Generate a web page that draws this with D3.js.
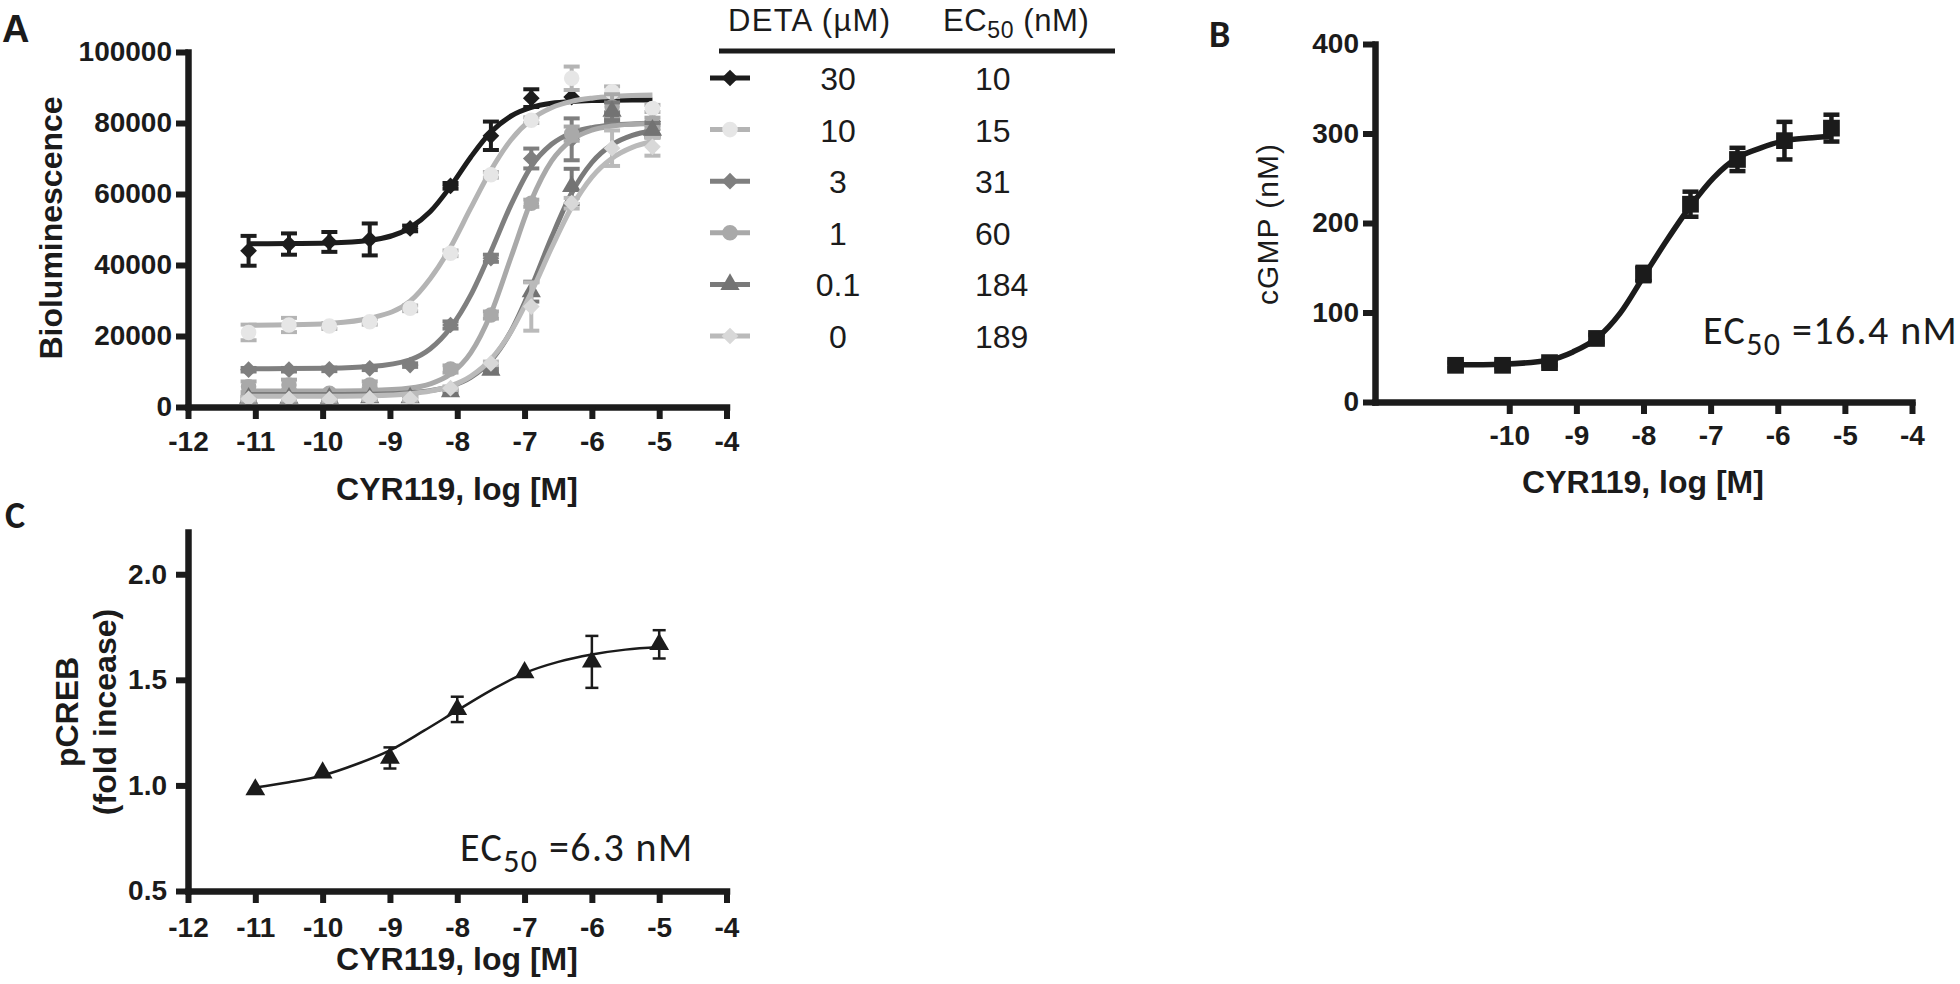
<!DOCTYPE html>
<html><head><meta charset="utf-8">
<script src="https://cdn.jsdelivr.net/npm/d3@7"></script>
<style>body{margin:0;background:#fff} svg{display:block}</style>
</head><body>
<svg id="chart" width="1960" height="984"></svg>
<script>
// ---------------- DATA ----------------
// Panel A
const detaLabels = ["30", "10", "3", "1", "0.1", "0"];
const ec50Labels = ["10", "15", "31", "60", "184", "189"];
const logConcA = [-11.1, -10.5, -9.9, -9.3, -8.7, -8.1, -7.5, -6.9, -6.3, -5.7, -5.1];
const lum30  = [44000, 45900, 46500, 47200, 50300, 62300, 76400, 87000, 87300, 87200, 80500];
const err30  = [4200, 3000, 2800, 4500, 800, 800, 4000, 2500, 0, 0, 0];
const lum10  = [21000, 23100, 22800, 24000, 27800, 43300, 65400, 80800, 92600, 88800, 84100];
const err10  = [2200, 2000, 800, 800, 800, 800, 800, 800, 3300, 1500, 1000];
const lum3   = [10500, 10500, 10600, 10900, 11800, 23100, 41900, 70000, 75400, 81500, 78000];
const err3   = [500, 500, 500, 500, 500, 1000, 1000, 2800, 5900, 1500, 1500];
const lum1   = [5700, 6200, 3900, 6200, 3300, 10700, 25900, 57400, 77000, 84600, 80000];
const err1   = [1500, 1500, 500, 1000, 500, 1000, 1000, 1000, 2000, 3500, 1500];
const lum01  = [2500, 2500, 2500, 2600, 2600, 4300, 10400, 32500, 62100, 83300, 78000];
const err01  = [500, 500, 500, 500, 500, 500, 500, 2800, 5000, 2500, 2000];
const lum0   = [2300, 2300, 2200, 2400, 2300, 5300, 12300, 28300, 57400, 72900, 73300];
const err0   = [500, 500, 500, 500, 500, 500, 500, 6800, 1500, 5000, 2500];
// fitted curves
const fitXA  = [-11.1, -10.5, -9.9, -9.3, -8.7, -8.4, -8.1, -7.8, -7.5, -7.2, -6.9, -6.6, -6.3, -6.0, -5.7, -5.4, -5.1];
const fit30  = [46010, 46040, 46190, 46950, 50530, 55060, 62130, 70380, 77440, 81970, 84390, 85550, 86080, 86320, 86420, 86470, 86490];
const fit10  = [23030, 23140, 23540, 25000, 29800, 36200, 45000, 56000, 66700, 75300, 81000, 84300, 86100, 87000, 87500, 87750, 87880];
const fit3   = [10800, 10820, 10920, 11390, 13300, 16400, 22300, 31500, 43800, 57000, 67800, 74000, 77200, 78700, 79400, 79750, 79900];
const fit1   = [4500, 4505, 4520, 4640, 5340, 6520, 9280, 15240, 26350, 42250, 58150, 69250, 75220, 77980, 79160, 79650, 79860];
const fit01  = [3500, 3505, 3525, 3614, 4022, 4610, 5810, 8310, 13060, 21390, 33700, 47730, 60270, 68870, 73900, 76520, 77820];
const fit0   = [3000, 3012, 3049, 3193, 3762, 4503, 5940, 8650, 13460, 21280, 32280, 44790, 56260, 64760, 70090, 73140, 74780];
const ticksXA = [-12, -11, -10, -9, -8, -7, -6, -5, -4];
const ticksYA = [0, 20000, 40000, 60000, 80000, 100000];

// Panel B
const logConcB = [-10.8, -10.1, -9.4, -8.7, -8.0, -7.3, -6.6, -5.9, -5.2];
const cgmp     = [41, 41, 44, 71, 143, 221, 271, 292, 306];
const cgmpErr  = [3, 3, 3, 4, 8, 14, 13, 21, 15];
const fitXB    = [-10.8, -10.1, -9.4, -9.05, -8.7, -8.35, -8.0, -7.65, -7.3, -6.95, -6.6, -6.25, -5.9, -5.55, -5.2];
const fitB     = [41.5, 42.3, 47, 56, 71, 99, 140, 181, 219, 251, 273, 284, 292, 295, 297];
const ticksXB  = [-10, -9, -8, -7, -6, -5, -4];
const ticksYB  = [0, 100, 200, 300, 400];

// Panel C
const logConcC = [-11, -10, -9, -8, -7, -6, -5];
const pcreb    = [0.98, 1.06, 1.13, 1.36, 1.535, 1.585, 1.668];
const pcrebErr = [0, 0, 0.05, 0.06, 0, 0.123, 0.067];
const fitXC    = [-11, -10.5, -10, -9.5, -9, -8.5, -8, -7.5, -7, -6.5, -6, -5.5, -5];
const fitC     = [0.99, 1.015, 1.047, 1.10, 1.166, 1.258, 1.355, 1.45, 1.532, 1.585, 1.62, 1.643, 1.655];
const ticksXC  = [-12, -11, -10, -9, -8, -7, -6, -5, -4];
const ticksYC  = [0.5, 1.0, 1.5, 2.0];

// ---------------- STYLE ----------------
const AX = "#1b1b1b";
const tickFont = "'Liberation Sans', Arial, sans-serif";
const seriesA = [
  {y: lum30, e: err30, fit: fit30, line: "#1c1c1c", mark: "#1c1c1c", sym: "diamond"},
  {y: lum10, e: err10, fit: fit10, line: "#b4b4b4", mark: "#e6e6e6", sym: "circle"},
  {y: lum3,  e: err3,  fit: fit3,  line: "#7f7f7f", mark: "#7f7f7f", sym: "diamond"},
  {y: lum1,  e: err1,  fit: fit1,  line: "#a9a9a9", mark: "#a9a9a9", sym: "circle"},
  {y: lum01, e: err01, fit: fit01, line: "#7a7a7a", mark: "#737373", sym: "triangle"},
  {y: lum0,  e: err0,  fit: fit0,  line: "#bababa", mark: "#d8d8d8", sym: "diamond"}
];
function symPath(kind, size) {
  if (kind === "circle") return d3.symbol(d3.symbolCircle, size)();
  if (kind === "triangle") return d3.symbol(d3.symbolTriangle, size)();
  return d3.symbol(d3.symbolSquare, size)(); // square, or diamond = rotated square
}
function symTransform(kind, x, y) {
  return kind === "diamond" ? `translate(${x},${y}) rotate(45)` : `translate(${x},${y})`;
}
function symSize(kind) {
  return kind === "circle" ? 190 : (kind === "triangle" ? 160 : 140);
}

const svg = d3.select("#chart");
const hyphenFmt = d => String(d);          // plain hyphen-minus like the original
const oneDec = d => d.toFixed(1);

function styleAxis(g) {
  g.attr("font-size", null).attr("font-family", null);
  g.select(".domain").attr("stroke", AX).attr("stroke-width", 6.5).attr("stroke-linecap", "square");
  g.selectAll(".tick line").attr("stroke", AX).attr("stroke-width", 6);
  g.selectAll(".tick text").attr("fill", AX).attr("font-family", tickFont)
    .attr("font-weight", "bold").attr("font-size", 28);
}

function drawAxes(x, y, xticks, yticks, yfmt, xPad, yPad) {
  const gx = svg.append("g").attr("transform", `translate(0,${y.range()[0]})`)
    .call(d3.axisBottom(x).tickValues(xticks).tickSize(12).tickSizeOuter(0).tickPadding(xPad).tickFormat(hyphenFmt));
  styleAxis(gx);
  const gy = svg.append("g").attr("transform", `translate(${x.range()[0]},0)`)
    .call(d3.axisLeft(y).tickValues(yticks).tickSize(12).tickSizeOuter(0).tickPadding(yPad).tickFormat(yfmt));
  styleAxis(gy);
}

function errorBars(g, xs, ys, es, x, y, color, width, cap) {
  xs.forEach((xv, i) => {
    const e = es[i];
    if (!e) return;
    const cx = x(xv), y1 = y(ys[i] - e), y2 = y(ys[i] + e);
    g.append("line").attr("x1", cx).attr("x2", cx).attr("y1", y1).attr("y2", y2)
      .attr("stroke", color).attr("stroke-width", width);
    [y1, y2].forEach(yy => g.append("line").attr("x1", cx - cap / 2).attr("x2", cx + cap / 2)
      .attr("y1", yy).attr("y2", yy).attr("stroke", color).attr("stroke-width", width));
  });
}

// ---------------- PANEL A ----------------
const xA = d3.scaleLinear().domain([-12, -4]).range([188, 726.5]);
const yA = d3.scaleLinear().domain([0, 100000]).range([407, 52]);

const gA = svg.append("g");
seriesA.forEach(s => {
  const g = gA.append("g");
  errorBars(g, logConcA, s.y, s.e, xA, yA, s.line, 4, 16);
  g.append("path").datum(fitXA.map((v, i) => [v, s.fit[i]]))
    .attr("fill", "none").attr("stroke", s.line).attr("stroke-width", 5)
    .attr("d", d3.line().x(d => xA(d[0])).y(d => yA(d[1])).curve(d3.curveMonotoneX));
  logConcA.forEach((v, i) => {
    g.append("path").attr("d", symPath(s.sym, symSize(s.sym)))
      .attr("transform", symTransform(s.sym, xA(v), yA(s.y[i])))
      .attr("fill", s.mark);
  });
});
drawAxes(xA, yA, ticksXA, ticksYA, hyphenFmt, 12, 4);

svg.append("text").attr("x", 2).attr("y", 42).text("A")
  .attr("font-family", tickFont).attr("font-weight", "bold").attr("font-size", 38).attr("fill", AX);
svg.append("text").attr("transform", "translate(62,228) rotate(-90)").attr("text-anchor", "middle")
  .text("Bioluminescence").attr("font-family", tickFont).attr("font-weight", "bold")
  .attr("font-size", 32).attr("fill", AX);
svg.append("text").attr("x", 457).attr("y", 500).attr("text-anchor", "middle")
  .text("CYR119, log [M]").attr("font-family", tickFont).attr("font-weight", "bold")
  .attr("font-size", 32).attr("fill", AX);

// legend table
const legFont = "'Liberation Sans', Arial, sans-serif";
svg.append("text").attr("x", 728).attr("y", 31).text("DETA (µM)")
  .attr("font-family", legFont).attr("font-size", 31).attr("fill", AX).attr("letter-spacing", 1.3);
const ecHead = svg.append("text").attr("x", 943).attr("y", 31)
  .attr("font-family", legFont).attr("font-size", 31).attr("fill", AX).attr("letter-spacing", 0.6);
ecHead.append("tspan").text("EC");
ecHead.append("tspan").text("50").attr("font-size", 23).attr("dy", 7);
ecHead.append("tspan").text(" (nM)").attr("dy", -7);
svg.append("line").attr("x1", 719).attr("x2", 1115).attr("y1", 51).attr("y2", 51)
  .attr("stroke", AX).attr("stroke-width", 5);
const rowY = d3.scalePoint().domain(detaLabels).range([78, 336]);
seriesA.forEach((s, i) => {
  const cy = rowY(detaLabels[i]);
  svg.append("line").attr("x1", 710).attr("x2", 750).attr("y1", cy).attr("y2", cy)
    .attr("stroke", s.line).attr("stroke-width", 5);
  svg.append("path").attr("d", symPath(s.sym, symSize(s.sym))).attr("transform", symTransform(s.sym, 730, cy))
    .attr("fill", s.mark);
  svg.append("text").attr("x", 838).attr("y", cy + 12).attr("text-anchor", "middle")
    .text(detaLabels[i]).attr("font-family", legFont).attr("font-size", 32).attr("fill", AX);
  svg.append("text").attr("x", 975).attr("y", cy + 12)
    .text(ec50Labels[i]).attr("font-family", legFont).attr("font-size", 32).attr("fill", AX);
});

// ---------------- PANEL B ----------------
const xB = d3.scaleLinear().domain([-12, -4]).range([1375, 1912]);
const yB = d3.scaleLinear().domain([0, 400]).range([402, 44]);
const gB = svg.append("g");
errorBars(gB, logConcB, cgmp, cgmpErr, xB, yB, AX, 4.5, 16);
gB.append("path").datum(fitXB.map((v, i) => [v, fitB[i]]))
  .attr("fill", "none").attr("stroke", AX).attr("stroke-width", 5.5)
  .attr("d", d3.line().x(d => xB(d[0])).y(d => yB(d[1])).curve(d3.curveMonotoneX));
logConcB.forEach((v, i) => {
  gB.append("path").attr("d", symPath("square", 280))
    .attr("transform", symTransform("square", xB(v), yB(cgmp[i]))).attr("fill", AX);
});
drawAxes(xB, yB, ticksXB, ticksYB, hyphenFmt, 11, 4);

const calFont = "Carlito, Lato, 'Open Sans', sans-serif";
svg.append("text").attr("x", 1209).attr("y", 47).text("B")
  .attr("font-family", calFont).attr("font-weight", "bold").attr("font-size", 38).attr("fill", AX);
svg.append("text").attr("transform", "translate(1278,224) rotate(-90)").attr("text-anchor", "middle")
  .text("cGMP (nM)").attr("font-family", legFont).attr("font-size", 30).attr("fill", AX).attr("letter-spacing", 1);
svg.append("text").attr("x", 1643).attr("y", 493).attr("text-anchor", "middle")
  .text("CYR119, log [M]").attr("font-family", tickFont).attr("font-weight", "bold")
  .attr("font-size", 32).attr("fill", AX);
const ecB = svg.append("text").attr("x", 1703).attr("y", 344).attr("letter-spacing", 1.4)
  .attr("font-family", calFont).attr("font-size", 40).attr("fill", AX);
ecB.append("tspan").text("EC");
ecB.append("tspan").text("50").attr("font-size", 32).attr("dy", 11);
ecB.append("tspan").text(" =16.4 nM").attr("dy", -11);

// ---------------- PANEL C ----------------
const xC = d3.scaleLinear().domain([-12, -4]).range([188, 726.5]);
const yC = d3.scaleLinear().domain([0.5, 2.2]).range([891, 532]);
const gC = svg.append("g");
errorBars(gC, logConcC, pcreb, pcrebErr, xC, yC, AX, 2.5, 13);
gC.append("path").datum(fitXC.map((v, i) => [v, fitC[i]]))
  .attr("fill", "none").attr("stroke", AX).attr("stroke-width", 2.5)
  .attr("d", d3.line().x(d => xC(d[0])).y(d => yC(d[1])).curve(d3.curveMonotoneX));
logConcC.forEach((v, i) => {
  gC.append("path").attr("d", symPath("triangle", 170))
    .attr("transform", symTransform("triangle", xC(v), yC(pcreb[i]))).attr("fill", AX);
});
drawAxes(xC, yC, ticksXC, ticksYC, oneDec, 14, 9);

svg.append("text").attr("x", 5).attr("y", 528).text("C")
  .attr("font-family", calFont).attr("font-weight", "bold").attr("font-size", 38).attr("fill", AX);
const yl = svg.append("text").attr("transform", "translate(78,712) rotate(-90)").attr("text-anchor", "middle")
  .attr("font-family", tickFont).attr("font-weight", "bold").attr("font-size", 32).attr("fill", AX);
yl.append("tspan").attr("x", 0).attr("y", 0).text("pCREB");
yl.append("tspan").attr("x", 0).attr("y", 38).text("(fold incease)");
svg.append("text").attr("x", 457).attr("y", 970).attr("text-anchor", "middle")
  .text("CYR119, log [M]").attr("font-family", tickFont).attr("font-weight", "bold")
  .attr("font-size", 32).attr("fill", AX);
const ecC = svg.append("text").attr("x", 460).attr("y", 861).attr("letter-spacing", 1.4)
  .attr("font-family", calFont).attr("font-size", 40).attr("fill", AX);
ecC.append("tspan").text("EC");
ecC.append("tspan").text("50").attr("font-size", 32).attr("dy", 11);
ecC.append("tspan").text(" =6.3 nM").attr("dy", -11);
</script>
</body></html>
